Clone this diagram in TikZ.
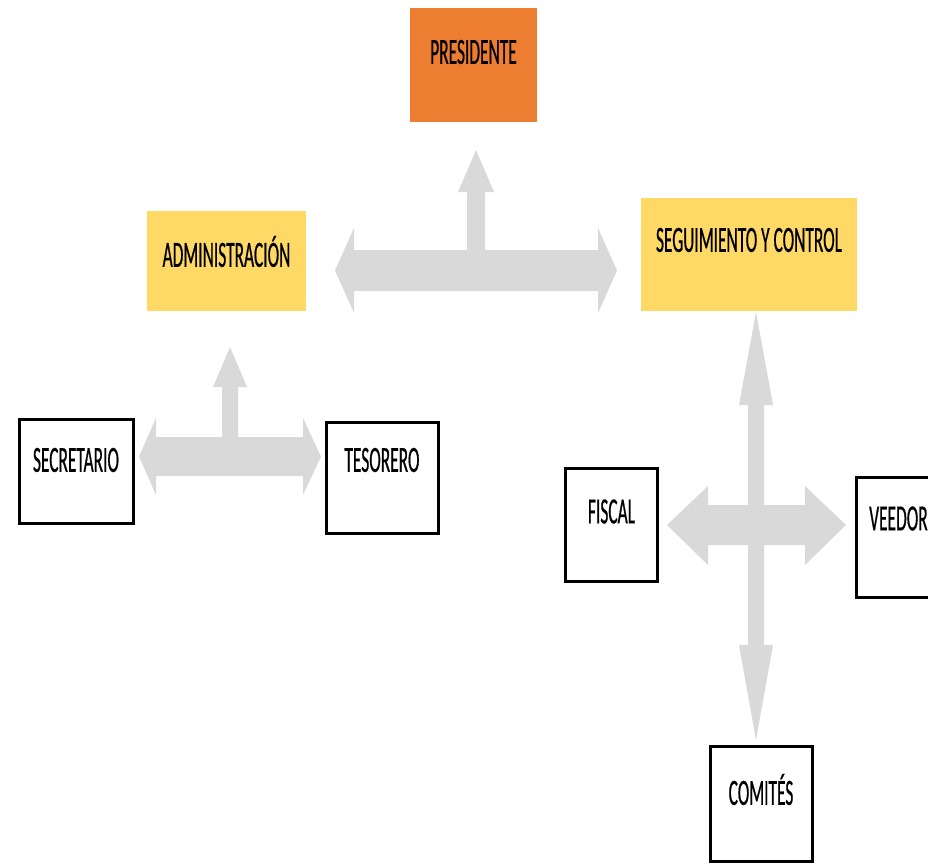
\documentclass[tikz,border=0pt]{standalone}
\usepackage{fontspec}
\newfontfamily\lab[FakeStretch=0.47, FakeBold=0.5]{Carlito}
\definecolor{orangebox}{HTML}{ED7D31}
\definecolor{yellowbox}{HTML}{FFD966}
\definecolor{arrowgray}{HTML}{D9D9D9}
\tikzset{
  labfont/.style={font=\fontsize{37}{40}\lab},
  box/.style={rectangle, inner sep=0pt},
  orbox/.style={box, fill=orangebox},
  ylbox/.style={box, fill=yellowbox},
  wtbox/.style={box, fill=white, draw=black, line width=3pt},
  blockarrow/.style={fill=arrowgray, draw=none},
}
\begin{document}
\begin{tikzpicture}[x=1pt,y=-1pt]
\useasboundingbox (0,0) rectangle (928,862);
% gray block arrows
\fill[blockarrow] (335,270.5) -- (354,228) -- (354,250) -- (467,250) -- (467,192) -- (458,192) -- (476,150) -- (494,192) -- (485,192) -- (485,250) -- (598,250) -- (598,228) -- (617,270.5) -- (598,313) -- (598,291) -- (354,291) -- (354,313) -- cycle;
\fill[blockarrow] (139,456.5) -- (156,418) -- (156,437) -- (222,437) -- (222,387) -- (213,387) -- (230,347) -- (247,387) -- (238,387) -- (238,437) -- (303,437) -- (303,418) -- (321,456.5) -- (303,495) -- (303,476) -- (156,476) -- (156,495) -- cycle;
\fill[blockarrow] (756,312) -- (773,405) -- (764,405) -- (764,505) -- (805,505) -- (805,486) -- (846,525) -- (805,565) -- (805,545) -- (764,545) -- (764,645) -- (773,645) -- (756,740) -- (739,645) -- (748,645) -- (748,545) -- (708,545) -- (708,565) -- (667,525) -- (708,486) -- (708,505) -- (748,505) -- (748,405) -- (739,405) -- cycle;
% boxes
\node[orbox, minimum width=127, minimum height=114, label={[labfont, yshift=13]center:PRESIDENTE}] (pres) at (473.5,65) {};
\node[ylbox, minimum width=159, minimum height=100, label={[labfont, yshift=9.5]center:ADMINISTRACIÓN}] (adm) at (226.5,261) {};
\node[ylbox, minimum width=216, minimum height=113, label={[labfont, yshift=14.5]center:SEGUIMIENTO Y CONTROL}] (seg) at (749,254.5) {};
\node[wtbox, minimum width=114, minimum height=104, label={[labfont, yshift=11]center:SECRETARIO}] (sec) at (76,471) {};
\node[wtbox, minimum width=112, minimum height=111, label={[labfont, yshift=17.5]center:TESORERO}] (tes) at (382,477.5) {};
\node[wtbox, minimum width=92, minimum height=113, label={[labfont, yshift=13.5]center:FISCAL}] (fis) at (611.5,525) {};
\node[wtbox, minimum width=85, minimum height=120, label={[labfont, yshift=18.5]center:VEEDOR}] (vee) at (898.5,537) {};
\node[wtbox, minimum width=102, minimum height=115, label={[labfont, yshift=14]center:COMITÉS}] (com) at (761,803.5) {};
\end{tikzpicture}
\end{document}
